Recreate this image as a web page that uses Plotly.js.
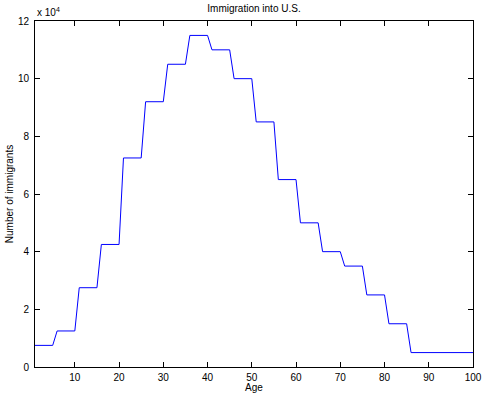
<!DOCTYPE html>
<html>
<head>
<meta charset="utf-8">
<script src="https://cdn.plot.ly/plotly-3.0.1.min.js"></script>
<style>
  html, body { margin: 0; padding: 0; background: #fff; }
  #chart { width: 483px; height: 393px; }
</style>
</head>
<body>
<div id="chart"></div>
<script>
// Ages 1..100 and number of immigrants at each age (five-year brackets)
const ages = [];
for (let a = 1; a <= 100; a++) ages.push(a);

const immigrants = [
   7500,   7500,   7500,   7500,   7500,   // 1-5
  12500,  12500,  12500,  12500,  12500,   // 6-10
  27500,  27500,  27500,  27500,  27500,   // 11-15
  42500,  42500,  42500,  42500,  42500,   // 16-20
  72500,  72500,  72500,  72500,  72500,   // 21-25
  92000,  92000,  92000,  92000,  92000,   // 26-30
 105000, 105000, 105000, 105000, 105000,   // 31-35
 115000, 115000, 115000, 115000, 115000,   // 36-40
 110000, 110000, 110000, 110000, 110000,   // 41-45
 100000, 100000, 100000, 100000, 100000,   // 46-50
  85000,  85000,  85000,  85000,  85000,   // 51-55
  65000,  65000,  65000,  65000,  65000,   // 56-60
  50000,  50000,  50000,  50000,  50000,   // 61-65
  40000,  40000,  40000,  40000,  40000,   // 66-70
  35000,  35000,  35000,  35000,  35000,   // 71-75
  25000,  25000,  25000,  25000,  25000,   // 76-80
  15000,  15000,  15000,  15000,  15000,   // 81-85
   5000,   5000,   5000,   5000,   5000,   // 86-90
   5000,   5000,   5000,   5000,   5000,   // 91-95
   5000,   5000,   5000,   5000,   5000    // 96-100
];

const xTickVals = [10, 20, 30, 40, 50, 60, 70, 80, 90, 100];
const yTickVals = [0, 20000, 40000, 60000, 80000, 100000, 120000];
const yTickText = ['0', '2', '4', '6', '8', '10', '12'];

const font = { family: 'Liberation Sans, Arial, Helvetica, sans-serif', size: 10, color: '#000' };

const trace = {
  x: ages,
  y: immigrants,
  type: 'scatter',
  mode: 'lines',
  line: { color: '#0000ff', width: 1 },
  hoverinfo: 'skip'
};

const axisCommon = {
  showgrid: false,
  zeroline: false,
  showline: true,
  linecolor: '#000',
  linewidth: 1,
  mirror: 'ticks',
  ticks: 'inside',
  ticklen: 5,
  tickwidth: 1,
  tickcolor: '#000',
  tickfont: font
};

const layout = {
  width: 483,
  height: 393,
  margin: { l: 35, r: 10, t: 21, b: 26, pad: 0 },
  paper_bgcolor: '#fff',
  plot_bgcolor: '#fff',
  showlegend: false,
  font: font,
  title: {
    text: 'Immigration into U.S.',
    font: font,
    x: 0.5, xref: 'paper', xanchor: 'center',
    y: 1, yref: 'container', yanchor: 'top', pad: { t: 5 }
  },
  xaxis: Object.assign({}, axisCommon, {
    range: [1, 100],
    tickmode: 'array',
    tickvals: xTickVals,
    ticklabelstandoff: 1,
    title: { text: 'Age', font: font, standoff: 0 },
    automargin: false
  }),
  yaxis: Object.assign({}, axisCommon, {
    range: [0, 120000],
    tickmode: 'array',
    tickvals: yTickVals,
    ticktext: yTickText,
    ticklabelstandoff: 3,
    title: { text: 'Number of immigrants', font: font, standoff: 2 },
    automargin: false
  }),
  annotations: [{
    text: 'x 10<sup>4</sup>',
    xref: 'paper', yref: 'paper',
    x: 0, y: 1, xanchor: 'left', yanchor: 'bottom',
    yshift: 1,
    showarrow: false,
    font: { family: font.family, size: 10, color: '#000' }
  }]
};

Plotly.newPlot('chart', [trace], layout, { staticPlot: true, displayModeBar: false });
</script>
</body>
</html>
